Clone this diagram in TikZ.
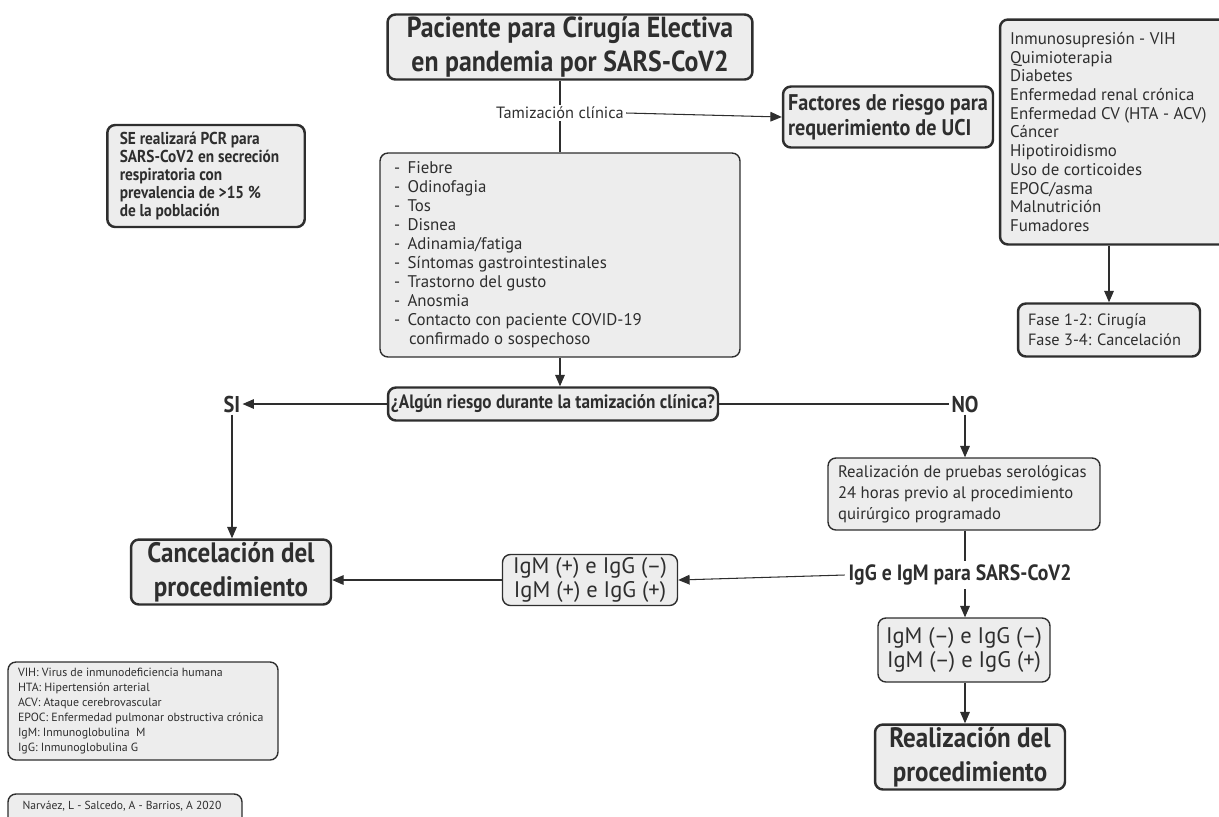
\documentclass[tikz,border=0pt]{standalone}
\usepackage{fontspec}
\setmainfont{PT Sans}
\newfontfamily\condbf{PT Sans}[FakeStretch=0.89]
\usepackage{tikz}
\usetikzlibrary{arrows.meta,positioning,calc}
\definecolor{boxgray}{HTML}{EDEDED}
\definecolor{linegray}{HTML}{2E2E2E}
\newcommand{\sym}[1]{\makebox[0.8em][l]{-}#1}

\begin{document}
\begin{tikzpicture}[x=0.02cm,y=-0.02cm,
	>={Triangle[length=6.5pt,width=5.5pt]},
	color=linegray, line width=0.6pt,
	bigbox/.style={draw=linegray, fill=boxgray, line width=1.4pt, rounded corners=4.5pt, align=center, inner sep=0pt},
	smallbox/.style={draw=linegray, fill=boxgray, line width=0.8pt, rounded corners=4.5pt, align=flush left, inner sep=0pt},
	cond/.style 2 args={font=\condbf\bfseries\fontsize{#1}{#2}\selectfont},
	plain/.style 2 args={font=\fontsize{#1}{#2}\selectfont}]
	\useasboundingbox (0,0) rectangle (1219,816);
	% top of the chart
	\node[bigbox, cond={16.5}{19}, minimum width=7.3cm, minimum height=1.3cm] (title) at (570,47) {Paciente para Cirugía Electiva\\en pandemia por SARS-CoV2};
	\node[plain={9.3}{11}, inner sep=1pt] (tam) at (560,113) {Tamización clínica};
	\node[bigbox, cond={12.9}{14.2}, align=flush left, minimum width=4.2cm, minimum height=1.22cm] (factores) at (888,117) {Factores de riesgo para\\requerimiento de UCI};
	\node[bigbox, plain={9.6}{10.65}, align=flush left, text width=4.2cm, inner xsep=0.2cm, minimum height=4.5cm] (riesgo) at (1115,132) {Inmunosupresión - VIH\\Quimioterapia\\Diabetes\\Enfermedad renal crónica\\Enfermedad CV (HTA - ACV)\\Cáncer\\Hipotiroidismo\\Uso de corticoides\\EPOC/asma\\Malnutrición\\Fumadores};
	\node[bigbox, plain={9.3}{11.4}, align=flush left, text width=3.24cm, inner xsep=0.2cm, minimum height=1.06cm] (fase) at (1109,330) {Fase 1-2: Cirugía\\Fase 3-4: Cancelación};
	\node[bigbox, cond={9.8}{10.3}, align=flush left, text width=3.45cm, inner xsep=0.25cm, minimum height=2.04cm] (pcr) at (206,176) {SE realizará PCR para\\SARS-CoV2 en secreción\\respiratoria con\\prevalencia de >15 \%\\de la población};
	\node[smallbox, plain={9.6}{10.8}, text width=6.64cm, inner xsep=0.28cm, minimum height=4.08cm] (sintomas) at (560,255) {\sym{Fiebre}\\\sym{Odinofagia}\\\sym{Tos}\\\sym{Disnea}\\\sym{Adinamia/fatiga}\\\sym{Síntomas gastrointestinales}\\\sym{Trastorno del gusto}\\\sym{Anosmia}\\\sym{Contacto con paciente COVID-19}\\\hspace*{0.9em}confirmado o sospechoso};
	% decision
	\node[bigbox, cond={11}{13}, minimum width=6.6cm, minimum height=0.66cm] (question) at (553,404) {¿Algún riesgo durante la tamización clínica?};
	\node[cond={13}{15}, inner sep=1pt] (si) at (232,404) {SI};
	\node[cond={13}{15}, inner sep=1pt] (no) at (965,404) {NO};
	\node[bigbox, cond={16}{19.5}, minimum width=4cm, minimum height=1.3cm] (cancel) at (231,572) {Cancelación del\\procedimiento};
	\node[smallbox, plain={9.5}{12}, text width=5.04cm, inner xsep=0.2cm, minimum height=1.44cm] (pruebas) at (964,494) {Realización de pruebas serológicas\\24 horas previo al procedimiento\\quirúrgico programado};
	\node[cond={12.6}{14}, inner sep=2pt] (iggl) at (960,575) {IgG e IgM para SARS-CoV2};
	\node[smallbox, plain={12.8}{13.7}, align=center, minimum width=3.5cm, minimum height=1.02cm] (igmpos) at (590,580) {IgM (+) e IgG (--)\\IgM (+) e IgG (+)};
	\node[smallbox, plain={12.8}{13.7}, align=center, minimum width=3.44cm, minimum height=1.28cm] (igmneg) at (964,650) {IgM (--) e IgG (--)\\IgM (--) e IgG (+)};
	\node[bigbox, cond={16}{19.5}, minimum width=3.8cm, minimum height=1.3cm] (realiz) at (970,757) {Realización del\\procedimiento};
	% notes
	\node[smallbox, plain={6.75}{8.6}, text width=5cm, inner xsep=0.2cm, minimum height=1.96cm] (abrev) at (143,711) {VIH: Virus de inmunodeficiencia humana\\HTA: Hipertensión arterial\\ACV: Ataque cerebrovascular\\EPOC: Enfermedad pulmonar obstructiva crónica\\IgM: Inmunoglobulina~~M\\IgG: Inmunoglobulina G};
	\draw[smallbox] (8,794) rectangle (242,840);
	\node[plain={6.6}{8.6}] (autor) at (122,806) {Narváez, L - Salcedo, A - Barrios, A 2020};
	% connectors
	\draw (sintomas.north |- title.south) -- (sintomas.north |- tam.north);
	\draw (sintomas.north |- tam.south) -- (sintomas.north);
	\draw[->] (tam.east) -- (factores.west);
	\draw[->] (fase.north |- riesgo.south) -- (fase.north);
	\draw[->] (sintomas.south) -- (sintomas.south |- question.north);
	\draw[->] (question.west) -- (si.east);
	\draw (question.east) -- (no.west);
	\draw[->] (si.south) -- (si.south |- cancel.north);
	\draw[->] (no.south) -- (no.south |- pruebas.north);
	\draw (no.south |- pruebas.south) -- (no.south |- iggl.north);
	\draw[->] (iggl.west) -- (igmpos.east);
	\draw[->] (igmpos.west) -- (igmpos.west -| cancel.east);
	\draw[->] (no.south |- iggl.south) -- (no.south |- igmneg.north);
	\draw[->] (no.south |- igmneg.south) -- (no.south |- realiz.north);
\end{tikzpicture}
\end{document}
